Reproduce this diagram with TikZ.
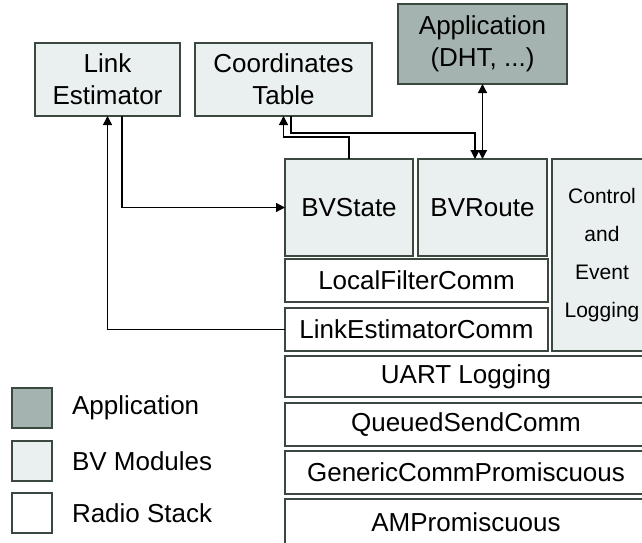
\documentclass[tikz,border=0pt]{standalone}
\usepackage{fontspec}
\setmainfont{Liberation Sans}
\usepackage{tikz}
\usetikzlibrary{arrows.meta, positioning}
\definecolor{bvline}{HTML}{3A4840}
\definecolor{appfill}{HTML}{A4B3B0}
\definecolor{bvfill}{HTML}{EAF0EF}

\begin{document}
\begin{tikzpicture}[x=0.5pt, y=-0.5pt,
        every node/.style={align=center, outer sep=0pt},
        blk/.style={rectangle, draw=bvline, line width=0.75pt, inner sep=0pt,
                    anchor=north west,
                    font=\fontsize{13}{15.8}\selectfont},
        appblk/.style={blk, fill=appfill},
        bvblk/.style={blk, fill=bvfill},
        radioblk/.style={blk, fill=white},
        conn/.style={line width=0.6pt, -{Triangle[length=4.5pt, width=4.5pt]}},
        conntwo/.style={conn, {Triangle[length=4.5pt, width=4.5pt]}-{Triangle[length=4.5pt, width=4.5pt]}},
        legtxt/.style={anchor=west, inner sep=0pt, font=\fontsize{13}{15.8}\selectfont}
    ]
        \useasboundingbox (0,0) rectangle (642,542);

        % --- Bloques superiores ---
        \node[bvblk, minimum width=72.5pt, minimum height=36.5pt] (linkest) at (35, 43)
            {Link\\Estimator};
        \node[bvblk, minimum width=88.5pt, minimum height=36.5pt] (coordtab) at (195, 43)
            {Coordinates\\Table};
        \node[appblk, minimum width=84.5pt, minimum height=40pt] (app) at (398, 4)
            {Application\\(DHT, ...)};

        % --- Modulos BV ---
        \node[bvblk, minimum width=64pt, minimum height=48.5pt] (bvstate) at (285, 159)
            {BVState};
        \node[bvblk, minimum width=64.5pt, minimum height=48.5pt] (bvroute) at (418, 159)
            {BVRoute};
        \node[bvblk, minimum width=50pt, minimum height=96pt,
              font=\fontsize{10.5}{19}\selectfont] (ctrllog) at (552, 159)
            {Control\\and\\Event\\Logging};

        % --- Pila de radio ---
        \node[radioblk, minimum width=131.5pt, minimum height=21.5pt] (lfcomm) at (285, 259)
            {LocalFilterComm};
        \node[radioblk, minimum width=131.5pt, minimum height=21.5pt] (lecomm) at (285, 308)
            {LinkEstimatorComm};
        \node[radioblk, minimum width=181pt, minimum height=20.5pt] (uartlog) at (285, 356)
            {UART Logging};
        \node[radioblk, minimum width=181pt, minimum height=21.5pt] (qscomm) at (285, 403)
            {QueuedSendComm};
        \node[radioblk, minimum width=181pt, minimum height=21.5pt] (gcprom) at (285, 451)
            {GenericCommPromiscuous};
        \node[radioblk, minimum width=181pt, minimum height=23pt] (amprom) at (285, 499)
            {AMPromiscuous};

        % --- Conexiones ---
        \draw[conn] ([xshift=7.25pt]linkest.south) |- (bvstate.west);
        \draw[conn] (lecomm.west) -| (linkest.south);
        \draw[conn] (bvstate.north) -- ++(0, 11pt) -| (coordtab.south);
        \draw[conn] ([xshift=3.75pt]coordtab.south) -- ++(0, -8.5pt)
            -| ([xshift=-3.75pt]bvroute.north);
        \draw[conntwo] (app.south) -- (bvroute.north);

        % --- Leyenda ---
        \node[appblk, minimum width=20pt, minimum height=20pt] (legapp) at (12, 388) {};
        \node[bvblk, minimum width=20pt, minimum height=20pt] (legbv) at (12, 441) {};
        \node[radioblk, minimum width=20pt, minimum height=20pt] (legradio) at (12, 493) {};
        \node[legtxt] at ([xshift=10pt]legapp.east) {Application};
        \node[legtxt] at ([xshift=10pt]legbv.east) {BV Modules};
        \node[legtxt] at ([xshift=10pt]legradio.east) {Radio Stack};
    \end{tikzpicture}
\end{document}
